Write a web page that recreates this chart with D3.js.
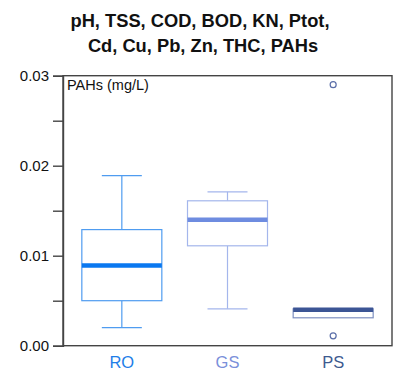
<!DOCTYPE html>
<html><head><meta charset="utf-8">
<script src="https://cdn.jsdelivr.net/npm/d3@7"></script>
<style>body{margin:0;background:#fff}svg{display:block}</style>
</head><body>
<svg id="c" width="398" height="372"></svg>
<script>
const categories = ["RO", "GS", "PS"];
const whiskerLow = [0.002, 0.0041, 0.0031];
const q1 = [0.005, 0.0111, 0.0031];
const median = [0.0089, 0.0140, 0.0040];
const q3 = [0.0129, 0.0161, 0.0041];
const whiskerHigh = [0.0189, 0.0171, 0.0041];
const outliers = [[], [], [0.029, 0.0011]];
const yTicks = [0, 0.005, 0.01, 0.015, 0.02, 0.025, 0.03];
const yLabels = ["0.00", "", "0.01", "", "0.02", "", "0.03"];

const boxStroke = ["#4f9cf0", "#a4b6ec", "#7d8fc0"];
const medColor = ["#0a78f0", "#6e8ce0", "#3c5595"];
const labelColor = ["#1e7ee8", "#7a90da", "#3d5a8f"];

const svg = d3.select("#c");
const L = 63, R = 392, T = 75.7, B = 345.7;
const y = d3.scaleLinear().domain([0, 0.03]).range([B, T]);
const x = d3.scaleBand().domain(categories).range([L + 6, R - 6]).paddingInner(0).paddingOuter(0);
const bw = 80, cw = 40;
const font = "Liberation Sans, Arial, sans-serif";

// title
const title = svg.append("text").attr("text-anchor", "middle")
  .style("font-family", font).style("font-weight", "bold").style("font-size", "18.3px").attr("fill", "#111");
title.append("tspan").attr("x", 200).attr("y", 27).text("pH, TSS, COD, BOD, KN, Ptot,");
title.append("tspan").attr("x", 203).attr("y", 52).text("Cd, Cu, Pb, Zn, THC, PAHs");

// frame
svg.append("rect").attr("x", L).attr("y", T).attr("width", R - L).attr("height", B - T)
  .attr("fill", "none").attr("stroke", "#444").attr("stroke-width", 1.4);

// y axis
const yAxis = d3.axisLeft(y).tickValues(yTicks).tickSize(10).tickPadding(4)
  .tickFormat((d, i) => yLabels[i]);
const ga = svg.append("g").attr("transform", `translate(${L},0)`).call(yAxis);
ga.select(".domain").attr("stroke", "#444").attr("stroke-width", 1.4);
ga.selectAll(".tick line").attr("stroke", "#444").attr("stroke-width", 1.4);
ga.selectAll(".tick text").style("font-family", font).style("font-size", "15px").attr("fill", "#111");

svg.append("text").attr("x", 67).attr("y", 90).text("PAHs (mg/L)")
  .style("font-family", font).style("font-size", "14.5px").attr("fill", "#111");

// boxes
categories.forEach((c, i) => {
  const cx = x(c) + x.bandwidth() / 2;
  const g = svg.append("g");
  g.append("line").attr("x1", cx).attr("x2", cx).attr("y1", y(q3[i])).attr("y2", y(whiskerHigh[i])).attr("stroke", boxStroke[i]).attr("stroke-width", 1.2);
  g.append("line").attr("x1", cx).attr("x2", cx).attr("y1", y(q1[i])).attr("y2", y(whiskerLow[i])).attr("stroke", boxStroke[i]).attr("stroke-width", 1.2);
  if (whiskerHigh[i] > q3[i]) g.append("line").attr("x1", cx - cw / 2).attr("x2", cx + cw / 2).attr("y1", y(whiskerHigh[i])).attr("y2", y(whiskerHigh[i])).attr("stroke", boxStroke[i]).attr("stroke-width", 1.2);
  if (whiskerLow[i] < q1[i]) g.append("line").attr("x1", cx - cw / 2).attr("x2", cx + cw / 2).attr("y1", y(whiskerLow[i])).attr("y2", y(whiskerLow[i])).attr("stroke", boxStroke[i]).attr("stroke-width", 1.2);
  g.append("rect").attr("x", cx - bw / 2).attr("width", bw).attr("y", y(q3[i])).attr("height", y(q1[i]) - y(q3[i]))
    .attr("fill", "#fff").attr("stroke", boxStroke[i]).attr("stroke-width", 1.2);
  g.append("line").attr("x1", cx - bw / 2).attr("x2", cx + bw / 2).attr("y1", y(median[i])).attr("y2", y(median[i])).attr("stroke", medColor[i]).attr("stroke-width", 4.5);
  outliers[i].forEach(v => {
    g.append("circle").attr("cx", cx).attr("cy", y(v)).attr("r", 3).attr("fill", "none").attr("stroke", "#5a6ea8").attr("stroke-width", 1.2);
  });
  svg.append("text").attr("x", cx).attr("y", 368).attr("text-anchor", "middle").text(c)
    .style("font-family", font).style("font-size", "16.5px").attr("fill", labelColor[i]);
});
</script>
</body></html>
